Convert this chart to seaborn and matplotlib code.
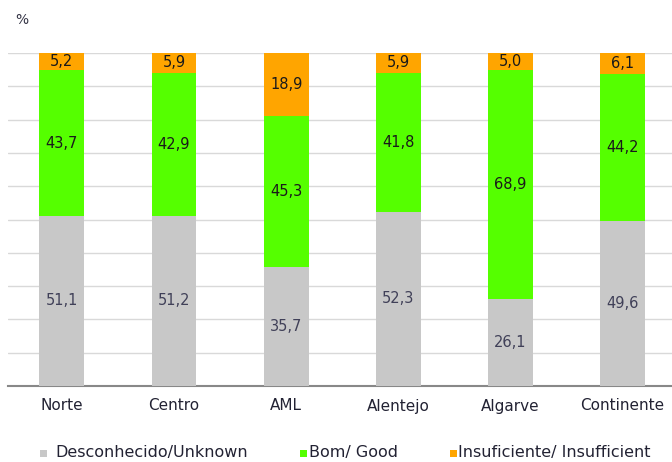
import matplotlib
matplotlib.use("Agg")
import matplotlib.pyplot as plt
from matplotlib.patches import Rectangle
import seaborn as sns
import pandas as pd
import numpy as np

regions = ["Norte", "Centro", "AML", "Alentejo", "Algarve", "Continente"]
unknown = [51.1, 51.2, 35.7, 52.3, 26.1, 49.6]
good = [43.7, 42.9, 45.3, 41.8, 68.9, 44.2]
insufficient = [5.2, 5.9, 18.9, 5.9, 5.0, 6.1]
series_names = ["Desconhecido/Unknown", "Bom/ Good", "Insuficiente/ Insufficient"]
colors = ["#C8C8C8", "#55FF00", "#FFA500"]

sns.set_theme(style="white")
plt.rcParams["font.family"] = ["DejaVu Sans"]

df = pd.DataFrame({"region": regions, "unknown": unknown, "good": good,
                   "insufficient": insufficient})
df["c1"] = df["unknown"]
df["c2"] = df["unknown"] + df["good"]
df["c3"] = df["c2"] + df["insufficient"]

W, H = 672, 462
fig = plt.figure(figsize=(W / 100, H / 100), dpi=100)
ax = fig.add_axes([8 / W, 1 - 386 / H, 1 - 8 / W, (386 - 53) / H])

# stacked bars: draw cumulative totals from top layer down
for col, c in zip(["c3", "c2", "c1"], colors[::-1]):
    sns.barplot(data=df, x="region", y=col, color=c, width=0.4, ax=ax,
                saturation=1, linewidth=0, edgecolor="none", zorder=3)

ax.set_xlim(-0.48, 5.44)
ax.set_ylim(0, 100)
ax.set_yticks(np.arange(0, 101, 10))
ax.set_yticklabels([])
ax.tick_params(axis="y", length=0)
ax.tick_params(axis="x", length=0, pad=9, labelsize=11, colors="#222233")
ax.grid(axis="y", color="#D9D9D9", linewidth=1, zorder=0)
ax.set_axisbelow(True)
ax.set_xlabel("")
ax.set_ylabel("")
for s in ["top", "right", "left"]:
    ax.spines[s].set_visible(False)
ax.spines["bottom"].set_color("#888888")
ax.spines["bottom"].set_linewidth(1.5)

# value labels centered in each segment
for i in range(len(regions)):
    ax.text(i, unknown[i] / 2, f"{unknown[i]:.1f}".replace(".", ","),
            ha="center", va="center", fontsize=10.5, color="#404058", zorder=5)
    ax.text(i, unknown[i] + good[i] / 2, f"{good[i]:.1f}".replace(".", ","),
            ha="center", va="center", fontsize=10.5, color="#1a1a1a", zorder=5)
    ax.text(i, unknown[i] + good[i] + insufficient[i] / 2,
            f"{insufficient[i]:.1f}".replace(".", ","),
            ha="center", va="center", fontsize=10.5, color="#1a1a1a", zorder=5)

fig.text(15 / W, 1 - 20 / H, "%", fontsize=10, color="#333344",
         ha="left", va="center")

# legend entries laid out along the bottom
swatch_x = [40, 300, 450]
text_x = [55, 309, 458]
for name, c, sx, tx in zip(series_names, colors, swatch_x, text_x):
    fig.patches.append(Rectangle((sx / W, 1 - 457 / H), 7 / W, 7 / H,
                                 transform=fig.transFigure, facecolor=c,
                                 edgecolor="none"))
    fig.text(tx / W, 1 - 453 / H, name, fontsize=11.5, color="#222233",
             ha="left", va="center")

fig.savefig("out.png", dpi=100)
